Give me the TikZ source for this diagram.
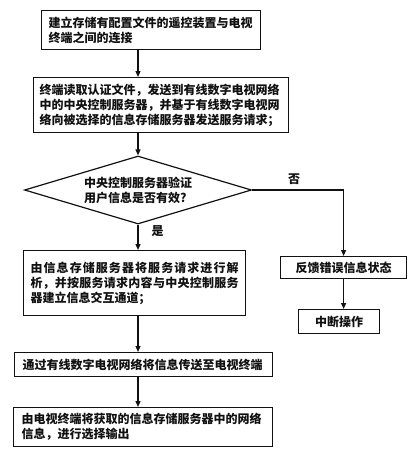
\documentclass[tikz,border=0pt]{standalone}
\usepackage{fontspec}
\setmainfont{Noto Sans CJK SC}
\usepackage{xcolor}
\usepackage{tikz}
\usetikzlibrary{arrows.meta,positioning,shapes.geometric}
\XeTeXlinebreaklocale "zh"
\XeTeXlinebreakskip=0pt plus 2pt
\definecolor{ink}{HTML}{111111}

\begin{document}
\begin{tikzpicture}[
  x=1pt, y=-1pt,
  font=\fontsize{12}{15}\selectfont\bfseries,
  stepbox/.style={draw=ink, line width=1.2pt, anchor=north west, align=left, inner xsep=6pt, inner ysep=0pt, text=ink},
  endbox/.style={draw=ink, line width=1.2pt, anchor=north west, align=center, inner sep=0pt, text=ink},
  check/.style={draw=ink, line width=1.2pt, diamond, aspect=3.3, inner sep=0pt, minimum width=227pt, minimum height=68pt, align=left, text=ink},
  arr/.style={-{Triangle[length=6pt,width=5pt]}, line width=1.2pt, ink},
  lbl/.style={text=ink, inner sep=1pt}
]
  \useasboundingbox (0,0) rectangle (411,450);
  \coordinate (spine) at (138,0);
  \node[stepbox, inner xsep=7pt, text width=205pt, minimum height=39pt] (link) at (41,10) {建立存储有配置文件的遥控装置与电视\\终端之间的连接};
  \node[stepbox, text width=243pt, minimum height=55pt] (read) at (33,77) {终端读取认证文件，发送到有线数字电视网络\\中的中央控制服务器，并基于有线数字电视网\\络向被选择的信息存储服务器发送服务请求；};
  \node[check] (valid) at (138,190) {中央控制服务器验证\\用户信息是否有效?};
  \node[stepbox, align=justify, inner xsep=7pt, text width=208pt, minimum height=65pt] (parse) at (23,250) {由信息存储服务器将服务请求进行解\linebreak 析，并按服务请求内容与中央控制服务\linebreak 器建立信息交互通道；};
  \node[endbox, minimum width=126pt, minimum height=22pt] (err) at (280,256) {反馈错误信息状态};
  \node[endbox, minimum width=81pt, minimum height=24pt] (stop) at (298,309) {中断操作};
  \node[stepbox, inner xsep=8pt, text width=242pt, minimum height=24pt] (send) at (14,352) {通过有线数字电视网络将信息传送至电视终端};
  \node[stepbox, inner xsep=8pt, text width=243pt, minimum height=39pt] (out) at (13,407) {由电视终端将获取的信息存储服务器中的网络\\信息，进行选择输出};

  \draw[arr] (link.south -| spine) -- (read.north -| spine);
  \draw[arr] (read.south -| spine) -- (valid.north);
  \draw[arr] (valid.south) -- node[lbl, pos=0.25, right=12pt] (yes) {是} (parse.north -| spine);
  \draw[arr] (valid.east) -| node[lbl, pos=0.23, above=4pt] (no) {否} (err.north);
  \draw[arr] (err.south) -- (err.south |- stop.north);
  \draw[arr] (parse.south -| spine) -- (send.north -| spine);
  \draw[arr] (send.south -| spine) -- (out.north -| spine);
\end{tikzpicture}
\end{document}
